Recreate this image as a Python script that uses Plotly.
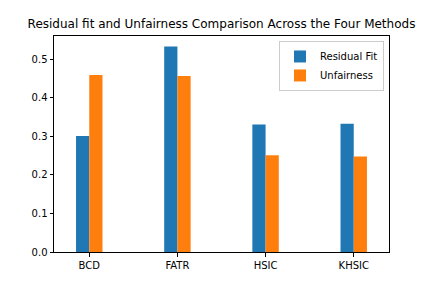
import plotly.graph_objects as go

methods = ["BCD", "FATR", "HSIC", "KHSIC"]
residual_fit = [0.301, 0.534, 0.331, 0.333]
unfairness = [0.460, 0.457, 0.251, 0.248]
y_ticks = [0.0, 0.1, 0.2, 0.3, 0.4, 0.5]

fig = go.Figure()
fig.add_trace(go.Bar(x=methods, y=residual_fit, name="Residual Fit", marker_color="#1f77b4", marker_line_width=0))
fig.add_trace(go.Bar(x=methods, y=unfairness, name="Unfairness", marker_color="#ff7f0e", marker_line_width=0))

fig.update_layout(
    width=432, height=288,
    margin=dict(l=54, r=43, t=36, b=36),
    paper_bgcolor="white", plot_bgcolor="white",
    font=dict(family="DejaVu Sans", size=10, color="black"),
    barmode="group", bargap=0.7, bargroupgap=0,
    title=dict(text="Residual fit and Unfairness Comparison Across the Four Methods",
               x=(54 + 389) / 2 / 432, xanchor="center", y=1 - 24 / 288, yanchor="middle",
               font=dict(size=12, color="black")),
    legend=dict(x=0.985, y=0.977, xanchor="right", yanchor="top",
                bgcolor="rgba(255,255,255,0.8)", bordercolor="#cccccc", borderwidth=1,
                font=dict(size=10), tracegroupgap=0, itemwidth=30),
    showlegend=True,
)
fig.update_xaxes(range=[-0.4, 3.4], showline=True, mirror=True, linecolor="black", linewidth=1,
                 ticks="outside", ticklen=3.5, tickcolor="black", showgrid=False)
fig.update_yaxes(range=[0, 0.561], tickvals=y_ticks, tickformat=".1f", showline=True, mirror=True,
                 linecolor="black", linewidth=1, ticks="outside", ticklen=3.5, tickcolor="black",
                 showgrid=False, zeroline=False)

fig.write_html("out.html", config={"displayModeBar": False},
               post_script="document.body.style.margin='0';")
